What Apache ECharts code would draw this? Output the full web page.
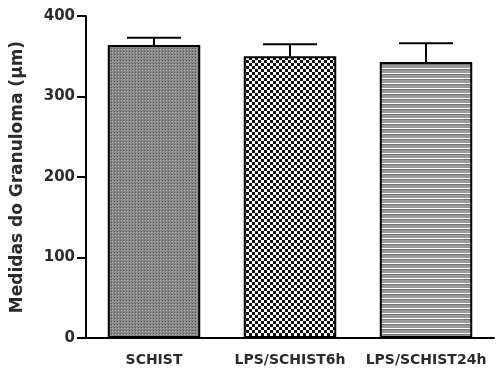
<!DOCTYPE html>
<html><head><meta charset="utf-8">
<script src="https://cdn.jsdelivr.net/npm/echarts@6/dist/echarts.min.js"></script>
<style>html,body{margin:0;padding:0;background:#fff}#c{width:503px;height:376px}</style>
</head><body><div id="c"></div>
<script>
const categories = ['SCHIST', 'LPS/SCHIST6h', 'LPS/SCHIST24h'];
const means = [364, 350, 343];
const errors = [9, 15, 23];
const yTicks = [0, 100, 200, 300, 400];

function makePattern(kind) {
  const c = document.createElement('canvas');
  const ctx = c.getContext('2d');
  if (kind === 0) {
    c.width = 3; c.height = 3;
    ctx.fillStyle = '#888888'; ctx.fillRect(0, 0, 3, 3);
    ctx.fillStyle = '#555555'; ctx.fillRect(0, 0, 1, 1);
    ctx.fillStyle = '#b0b0b0'; ctx.fillRect(1, 1, 1, 1);
  } else if (kind === 1) {
    c.width = 6; c.height = 6;
    ctx.fillStyle = '#ffffff'; ctx.fillRect(0, 0, 6, 6);
    ctx.fillStyle = '#111111'; ctx.fillRect(0, 0, 3, 3); ctx.fillRect(3, 3, 3, 3);
  } else {
    c.width = 5; c.height = 5;
    ctx.fillStyle = '#9a9a9a'; ctx.fillRect(0, 0, 5, 5);
    ctx.fillStyle = '#ffffff'; ctx.fillRect(0, 3, 5, 1);
    ctx.fillStyle = '#777777'; ctx.fillRect(0, 4, 5, 1);
  }
  return { image: c, repeat: 'repeat' };
}

const chart = echarts.init(document.getElementById('c'));
const font = 'DejaVu Sans, sans-serif';
chart.setOption({
  animation: false,
  grid: { left: 86, right: 9, top: 16, bottom: 38, outerBoundsMode: 'none', containLabel: false },
  xAxis: {
    type: 'category', data: categories,
    axisLine: { lineStyle: { color: '#000', width: 2 } },
    axisTick: { alignWithLabel: true, length: 6, lineStyle: { color: '#000', width: 2 } },
    axisLabel: { interval: 0, hideOverlap: false, color: '#2b2b2b', fontWeight: 'bold', fontSize: 14, fontFamily: font, margin: 15 }
  },
  yAxis: {
    type: 'value', min: 0, max: 400, interval: 100,
    name: 'Medidas do Granuloma (µm)', nameLocation: 'middle', nameGap: 60,
    nameTextStyle: { color: '#2b2b2b', fontWeight: 'bold', fontSize: 17, fontFamily: font },
    axisLine: { show: true, lineStyle: { color: '#000', width: 2 } },
    axisTick: { show: true, length: 9, lineStyle: { color: '#000', width: 2 } },
    splitLine: { show: false },
    axisLabel: { color: '#2b2b2b', fontWeight: 'bold', fontSize: 15, fontFamily: font, margin: 11,
      formatter: v => yTicks.includes(v) ? String(v) : '' }
  },
  series: [
    {
      type: 'bar', barWidth: '68%',
      data: means.map((v, i) => ({ value: v, itemStyle: { color: makePattern(i) } })),
      itemStyle: { borderColor: '#000', borderWidth: 2 }
    },
    {
      type: 'custom', z: 10,
      data: means.map((v, i) => [i, v, v + errors[i]]),
      renderItem: function (params, api) {
        const x = api.value(0);
        const base = api.coord([x, api.value(1)]);
        const top = api.coord([x, api.value(2)]);
        const half = 27;
        return {
          type: 'group', children: [
            { type: 'line', shape: { x1: base[0], y1: base[1], x2: top[0], y2: top[1] }, style: { stroke: '#000', lineWidth: 2 } },
            { type: 'line', shape: { x1: top[0] - half, y1: top[1], x2: top[0] + half, y2: top[1] }, style: { stroke: '#000', lineWidth: 2 } }
          ]
        };
      }
    }
  ]
});
</script></body></html>
